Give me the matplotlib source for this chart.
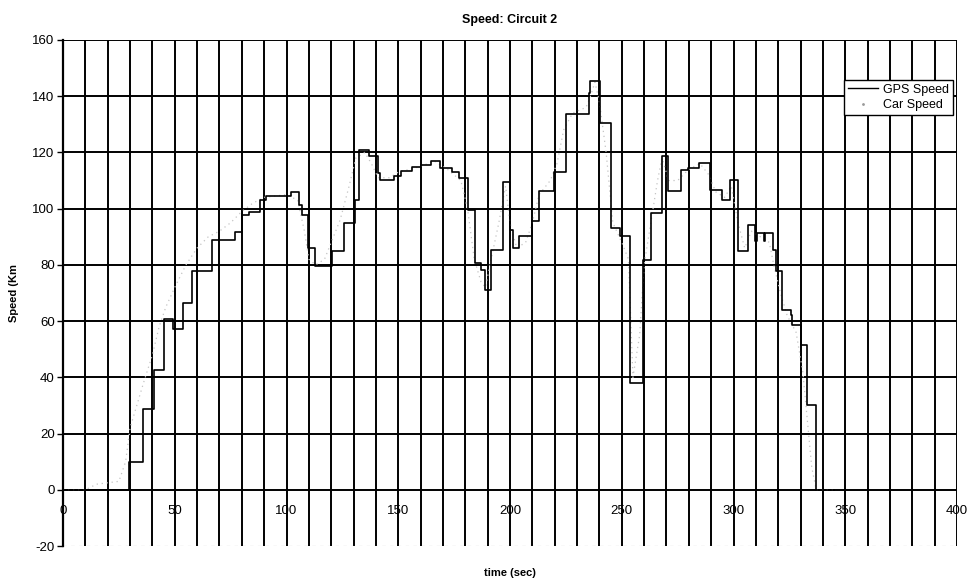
import matplotlib
matplotlib.use("Agg")
import matplotlib.pyplot as plt
from matplotlib.lines import Line2D

plt.rcParams["font.family"] = ["Liberation Sans", "DejaVu Sans"]
plt.rcParams["axes.unicode_minus"] = False

# GPS speed: change times (sec) and speed held from that time
gps_t = [0, 29.7, 35.7, 40.6, 45.3, 49.3, 53.7, 57.8, 66.7, 76.8, 80.3, 83.0,
         88.3, 91.0, 102.0, 105.7, 107.0, 109.7, 112.8, 120.2, 125.8, 130.5,
         132.6, 137.0, 141.0, 142.0, 148.0, 151.0, 156.3, 160.2, 164.5, 168.5,
         174.2, 177.2, 181.4, 184.3, 186.9, 188.6, 191.5, 196.7, 200.2, 201.2,
         204.2, 210.0, 213.0, 219.8, 224.9, 235.2, 236.0, 240.4, 245.4, 249.3,
         253.9, 259.3, 263.2, 268.0, 270.6, 276.7, 279.7, 284.7, 289.6, 295.0,
         298.5, 302.0, 306.5, 309.5, 310.5, 313.7, 314.2, 317.8, 319.0, 321.5,
         325.5, 326.2, 330.0, 333.0, 336.8, 345.0]
gps_v = [0, 9.8, 28.7, 42.6, 60.6, 57.1, 66.3, 77.7, 89.0, 91.7, 97.9, 98.7,
         103.0, 104.6, 106.0, 101.4, 97.9, 86.0, 79.5, 84.8, 94.9, 103.0,
         121.0, 118.9, 112.7, 110.3, 111.5, 113.3, 114.7, 115.6, 116.8, 114.5,
         112.9, 110.9, 99.6, 80.7, 78.3, 71.2, 85.4, 109.4, 92.5, 86.0,
         90.4, 95.5, 106.4, 112.9, 133.7, 141.0, 145.3, 130.5, 93.1, 90.4,
         38.0, 81.9, 98.5, 118.6, 106.2, 113.9, 114.5, 116.3, 106.8, 103.2,
         110.3, 84.8, 94.3, 88.4, 91.4, 88.4, 91.4, 85.4, 77.7, 64.0,
         62.0, 58.7, 51.6, 30.2, 0.0, 0.0]

# Car speed (faint dotted trace)
car_t = [0, 10, 15, 25, 28, 30, 33, 36, 40, 43, 46, 50, 55, 60, 65, 70, 75,
         80, 85, 90, 100, 105, 108, 110, 113, 117, 120, 124, 128, 131, 135,
         138, 141, 146, 150, 160, 166, 172, 178, 181, 184, 187, 189, 191, 195,
         198, 200, 203, 207, 210, 213, 218, 221, 224, 228, 234, 236, 238, 240,
         243, 246, 250, 253, 255, 258, 260, 263, 266, 268, 271, 275, 280, 285,
         289, 292, 296, 299, 302, 305, 308, 312, 316, 318, 321, 324, 328, 331,
         333, 335, 337, 345]
car_v = [0, 0, 2, 3, 10, 22, 30, 38, 48, 58, 65, 72, 80, 86, 90, 92, 95,
         99, 102, 104, 105, 103, 92, 82, 80, 82, 88, 96, 108, 118, 120,
         116, 111, 111, 113, 115, 117, 114, 110, 100, 82, 74, 72, 80, 95,
         108, 95, 86, 88, 95, 105, 110, 116, 128, 134, 136, 140, 145, 138,
         120, 95, 88, 82, 40, 55, 80, 95, 110, 118, 110, 110, 114, 116,
         112, 106, 104, 108, 95, 86, 92, 90, 88, 80, 70, 62, 56, 42,
         25, 8, 0, 0]

x_ticks = [0, 50, 100, 150, 200, 250, 300, 350, 400]
y_ticks = [-20, 0, 20, 40, 60, 80, 100, 120, 140, 160]

fig = plt.figure(figsize=(9.71, 5.87), dpi=100)
ax = fig.add_axes([0.0649, 0.0698, 0.9207, 0.8621])

ax.plot(car_t, car_v, color="#c4c4c4", linestyle=(0, (1, 3)), linewidth=0.9, zorder=2)
ax.plot(gps_t, gps_v, color="black", linewidth=1.2, drawstyle="steps-post", zorder=3)

ax.set_xlim(0, 400)
ax.set_ylim(-20, 160)

# grid: vertical every 10 s, horizontal every 20
for gx in range(10, 401, 10):
    ax.axvline(gx, color="black", linewidth=1.4, zorder=1)
for gy in range(0, 161, 20):
    ax.axhline(gy, color="black", linewidth=1.4, zorder=1)
ax.axhline(-20, color="#888888", linewidth=0.8, linestyle=(0, (3, 4)), zorder=1)

ax.set_yticks(y_ticks)
ax.set_xticks(x_ticks)
ax.spines["bottom"].set_position(("data", 0))
for s in ["top", "right", "bottom"]:
    ax.spines[s].set_visible(False)
ax.spines["left"].set_linewidth(1.6)
ax.tick_params(axis="x", length=0, pad=11, labelsize=9.5)
ax.tick_params(axis="y", length=4, width=1, labelsize=9.5, pad=2)

ax.set_title("Speed: Circuit 2", fontsize=9, fontweight="bold", pad=12)
ax.set_ylabel("Speed (Km", fontsize=8, fontweight="bold", labelpad=10)
fig.text(0.525, 0.019, "time (sec)", fontsize=8, fontweight="bold", ha="center")

handles = [Line2D([], [], color="black", linewidth=1.0),
           Line2D([], [], color="#9a9a9a", linestyle="none", marker=".", markersize=2)]
leg = ax.legend(handles, ["GPS Speed", "Car Speed"], loc="upper right",
                bbox_to_anchor=(0.9955, 0.921), borderaxespad=0, fontsize=9,
                frameon=True, fancybox=False, framealpha=1, edgecolor="black",
                handlelength=2.4, handletextpad=0.4, borderpad=0.3, labelspacing=0.3)
leg.get_frame().set_linewidth(1.0)

fig.savefig("out.png", dpi=100)
